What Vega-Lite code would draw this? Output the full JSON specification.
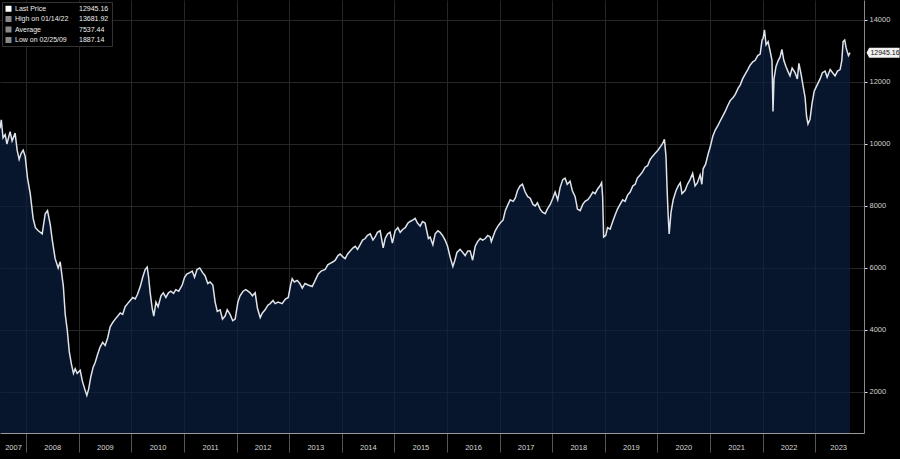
{
  "$schema": "https://vega.github.io/schema/vega-lite/v6.json",
  "width": 864,
  "height": 433,
  "autosize": {"type": "none"},
  "padding": {"left": 0, "top": 0, "right": 36, "bottom": 26},
  "background": "#000000",
  "config": {
    "view": {"stroke": null},
    "font": "Liberation Sans"
  },
  "datasets": {
    "prices": [
      {"date": "2007-07-03", "price": 10500},
      {"date": "2007-07-12", "price": 10780},
      {"date": "2007-07-24", "price": 10200},
      {"date": "2007-08-08", "price": 10300},
      {"date": "2007-08-20", "price": 10000},
      {"date": "2007-09-11", "price": 10400},
      {"date": "2007-09-25", "price": 10100},
      {"date": "2007-10-16", "price": 10350},
      {"date": "2007-10-30", "price": 9800},
      {"date": "2007-11-13", "price": 9500},
      {"date": "2007-11-27", "price": 9700},
      {"date": "2007-12-11", "price": 9800},
      {"date": "2007-12-25", "price": 9600},
      {"date": "2008-01-10", "price": 8900},
      {"date": "2008-01-29", "price": 8400},
      {"date": "2008-02-18", "price": 7600},
      {"date": "2008-03-05", "price": 7300},
      {"date": "2008-03-25", "price": 7200},
      {"date": "2008-04-21", "price": 7100},
      {"date": "2008-05-12", "price": 7750},
      {"date": "2008-05-28", "price": 7850},
      {"date": "2008-06-16", "price": 7400},
      {"date": "2008-06-30", "price": 6900},
      {"date": "2008-07-20", "price": 6300},
      {"date": "2008-08-10", "price": 6000},
      {"date": "2008-08-24", "price": 6200},
      {"date": "2008-09-15", "price": 5400},
      {"date": "2008-09-28", "price": 4500},
      {"date": "2008-10-12", "price": 4000},
      {"date": "2008-10-26", "price": 3300},
      {"date": "2008-11-10", "price": 2900},
      {"date": "2008-11-24", "price": 2600},
      {"date": "2008-12-06", "price": 2750},
      {"date": "2008-12-20", "price": 2600},
      {"date": "2009-01-10", "price": 2700},
      {"date": "2009-01-25", "price": 2350},
      {"date": "2009-02-10", "price": 2100},
      {"date": "2009-02-25", "price": 1887.14},
      {"date": "2009-03-10", "price": 2100},
      {"date": "2009-03-25", "price": 2500},
      {"date": "2009-04-10", "price": 2800},
      {"date": "2009-04-24", "price": 2950},
      {"date": "2009-05-10", "price": 3200},
      {"date": "2009-05-28", "price": 3450},
      {"date": "2009-06-15", "price": 3600},
      {"date": "2009-07-02", "price": 3500},
      {"date": "2009-07-20", "price": 3750},
      {"date": "2009-08-06", "price": 4100},
      {"date": "2009-08-25", "price": 4250},
      {"date": "2009-09-10", "price": 4350},
      {"date": "2009-09-28", "price": 4450},
      {"date": "2009-10-15", "price": 4550},
      {"date": "2009-11-01", "price": 4500},
      {"date": "2009-11-18", "price": 4750},
      {"date": "2009-12-05", "price": 4850},
      {"date": "2009-12-23", "price": 4950},
      {"date": "2010-01-10", "price": 5050},
      {"date": "2010-01-27", "price": 5000},
      {"date": "2010-02-12", "price": 5150},
      {"date": "2010-03-03", "price": 5400},
      {"date": "2010-03-20", "price": 5700},
      {"date": "2010-04-06", "price": 5950},
      {"date": "2010-04-20", "price": 6030},
      {"date": "2010-04-30", "price": 5700},
      {"date": "2010-05-11", "price": 5200},
      {"date": "2010-05-25", "price": 4700},
      {"date": "2010-06-05", "price": 4450},
      {"date": "2010-06-20", "price": 4900},
      {"date": "2010-07-05", "price": 4750},
      {"date": "2010-07-25", "price": 5100},
      {"date": "2010-08-10", "price": 5200},
      {"date": "2010-08-28", "price": 5050},
      {"date": "2010-09-15", "price": 5200},
      {"date": "2010-10-01", "price": 5250},
      {"date": "2010-10-20", "price": 5180},
      {"date": "2010-11-05", "price": 5300},
      {"date": "2010-11-25", "price": 5250},
      {"date": "2010-12-19", "price": 5450},
      {"date": "2011-01-05", "price": 5700},
      {"date": "2011-01-20", "price": 5800},
      {"date": "2011-02-10", "price": 5850},
      {"date": "2011-02-27", "price": 5900},
      {"date": "2011-03-15", "price": 5700},
      {"date": "2011-04-01", "price": 5950},
      {"date": "2011-04-20", "price": 6000},
      {"date": "2011-05-10", "price": 5850},
      {"date": "2011-05-27", "price": 5750},
      {"date": "2011-06-15", "price": 5500},
      {"date": "2011-07-01", "price": 5550},
      {"date": "2011-07-20", "price": 5450},
      {"date": "2011-08-05", "price": 4900},
      {"date": "2011-08-20", "price": 4600},
      {"date": "2011-09-09", "price": 4650},
      {"date": "2011-09-25", "price": 4350},
      {"date": "2011-10-13", "price": 4450},
      {"date": "2011-10-28", "price": 4650},
      {"date": "2011-11-17", "price": 4500},
      {"date": "2011-12-05", "price": 4300},
      {"date": "2011-12-22", "price": 4350},
      {"date": "2012-01-10", "price": 4900},
      {"date": "2012-01-25", "price": 5100},
      {"date": "2012-02-15", "price": 5250},
      {"date": "2012-03-05", "price": 5300},
      {"date": "2012-03-20", "price": 5250},
      {"date": "2012-04-04", "price": 5200},
      {"date": "2012-04-20", "price": 5100},
      {"date": "2012-05-09", "price": 5200},
      {"date": "2012-05-25", "price": 4700},
      {"date": "2012-06-13", "price": 4400},
      {"date": "2012-06-28", "price": 4550},
      {"date": "2012-07-17", "price": 4650},
      {"date": "2012-08-05", "price": 4800},
      {"date": "2012-08-21", "price": 4850},
      {"date": "2012-09-10", "price": 4950},
      {"date": "2012-09-25", "price": 4850},
      {"date": "2012-10-15", "price": 4900},
      {"date": "2012-11-12", "price": 4850},
      {"date": "2012-12-05", "price": 5000},
      {"date": "2012-12-25", "price": 5050},
      {"date": "2013-01-10", "price": 5450},
      {"date": "2013-01-21", "price": 5650},
      {"date": "2013-02-05", "price": 5550},
      {"date": "2013-02-25", "price": 5600},
      {"date": "2013-03-15", "price": 5500},
      {"date": "2013-04-01", "price": 5350},
      {"date": "2013-04-20", "price": 5500},
      {"date": "2013-05-12", "price": 5450},
      {"date": "2013-06-09", "price": 5400},
      {"date": "2013-06-25", "price": 5550},
      {"date": "2013-07-20", "price": 5800},
      {"date": "2013-08-10", "price": 5900},
      {"date": "2013-09-07", "price": 5950},
      {"date": "2013-09-25", "price": 6100},
      {"date": "2013-10-12", "price": 6150},
      {"date": "2013-11-01", "price": 6200},
      {"date": "2013-11-16", "price": 6250},
      {"date": "2013-12-05", "price": 6400},
      {"date": "2013-12-20", "price": 6450},
      {"date": "2014-01-10", "price": 6350},
      {"date": "2014-01-24", "price": 6300},
      {"date": "2014-02-10", "price": 6450},
      {"date": "2014-02-28", "price": 6550},
      {"date": "2014-03-20", "price": 6650},
      {"date": "2014-04-04", "price": 6700},
      {"date": "2014-04-20", "price": 6600},
      {"date": "2014-05-08", "price": 6750},
      {"date": "2014-05-25", "price": 6900},
      {"date": "2014-06-12", "price": 6950},
      {"date": "2014-06-28", "price": 7050},
      {"date": "2014-07-17", "price": 7100},
      {"date": "2014-08-05", "price": 6900},
      {"date": "2014-08-20", "price": 7000},
      {"date": "2014-09-05", "price": 7150},
      {"date": "2014-09-24", "price": 7200},
      {"date": "2014-10-15", "price": 6650},
      {"date": "2014-10-29", "price": 6950},
      {"date": "2014-11-15", "price": 7100},
      {"date": "2014-12-02", "price": 7150},
      {"date": "2014-12-18", "price": 6800},
      {"date": "2015-01-06", "price": 7200},
      {"date": "2015-01-25", "price": 7300},
      {"date": "2015-02-10", "price": 7150},
      {"date": "2015-03-01", "price": 7250},
      {"date": "2015-03-17", "price": 7300},
      {"date": "2015-04-05", "price": 7450},
      {"date": "2015-04-20", "price": 7500},
      {"date": "2015-05-10", "price": 7550},
      {"date": "2015-05-25", "price": 7600},
      {"date": "2015-06-10", "price": 7450},
      {"date": "2015-06-29", "price": 7350},
      {"date": "2015-07-15", "price": 7500},
      {"date": "2015-08-02", "price": 7450},
      {"date": "2015-08-25", "price": 6950},
      {"date": "2015-09-06", "price": 7000},
      {"date": "2015-09-25", "price": 6750},
      {"date": "2015-10-11", "price": 7100},
      {"date": "2015-10-30", "price": 7200},
      {"date": "2015-11-14", "price": 7150},
      {"date": "2015-12-01", "price": 7050},
      {"date": "2015-12-19", "price": 6900},
      {"date": "2016-01-05", "price": 6700},
      {"date": "2016-01-23", "price": 6350},
      {"date": "2016-02-11", "price": 6050},
      {"date": "2016-02-25", "price": 6250},
      {"date": "2016-03-10", "price": 6500},
      {"date": "2016-04-01", "price": 6600},
      {"date": "2016-04-20", "price": 6500},
      {"date": "2016-05-06", "price": 6400},
      {"date": "2016-05-25", "price": 6550},
      {"date": "2016-06-10", "price": 6550},
      {"date": "2016-06-27", "price": 6250},
      {"date": "2016-07-15", "price": 6700},
      {"date": "2016-08-01", "price": 6850},
      {"date": "2016-08-19", "price": 6950},
      {"date": "2016-09-05", "price": 6900},
      {"date": "2016-09-23", "price": 6950},
      {"date": "2016-10-10", "price": 7050},
      {"date": "2016-10-27", "price": 7000},
      {"date": "2016-11-04", "price": 6850},
      {"date": "2016-12-01", "price": 7200},
      {"date": "2016-12-20", "price": 7350},
      {"date": "2017-01-05", "price": 7450},
      {"date": "2017-01-25", "price": 7550},
      {"date": "2017-02-09", "price": 7850},
      {"date": "2017-02-28", "price": 8050},
      {"date": "2017-03-15", "price": 8200},
      {"date": "2017-04-05", "price": 8150},
      {"date": "2017-04-19", "price": 8250},
      {"date": "2017-05-05", "price": 8500},
      {"date": "2017-05-23", "price": 8650},
      {"date": "2017-06-08", "price": 8700},
      {"date": "2017-06-27", "price": 8450},
      {"date": "2017-07-15", "price": 8300},
      {"date": "2017-08-01", "price": 8250},
      {"date": "2017-08-20", "price": 8050},
      {"date": "2017-09-05", "price": 8000},
      {"date": "2017-09-20", "price": 8100},
      {"date": "2017-10-09", "price": 7900},
      {"date": "2017-10-25", "price": 7800},
      {"date": "2017-11-13", "price": 7750},
      {"date": "2017-11-28", "price": 7900},
      {"date": "2017-12-18", "price": 8050},
      {"date": "2018-01-05", "price": 8250},
      {"date": "2018-01-21", "price": 8450},
      {"date": "2018-02-08", "price": 8200},
      {"date": "2018-02-25", "price": 8600},
      {"date": "2018-03-15", "price": 8850},
      {"date": "2018-03-31", "price": 8900},
      {"date": "2018-04-15", "price": 8700},
      {"date": "2018-05-05", "price": 8800},
      {"date": "2018-05-20", "price": 8500},
      {"date": "2018-06-09", "price": 8300},
      {"date": "2018-06-25", "price": 7900},
      {"date": "2018-07-14", "price": 7850},
      {"date": "2018-08-01", "price": 8050},
      {"date": "2018-08-17", "price": 8150},
      {"date": "2018-09-05", "price": 8200},
      {"date": "2018-09-21", "price": 8300},
      {"date": "2018-10-10", "price": 8450},
      {"date": "2018-10-26", "price": 8400},
      {"date": "2018-11-12", "price": 8550},
      {"date": "2018-11-29", "price": 8650},
      {"date": "2018-12-10", "price": 8750},
      {"date": "2018-12-17", "price": 8300},
      {"date": "2018-12-24", "price": 7000},
      {"date": "2019-01-08", "price": 7050},
      {"date": "2019-01-20", "price": 7300},
      {"date": "2019-02-07", "price": 7250},
      {"date": "2019-02-25", "price": 7500},
      {"date": "2019-03-13", "price": 7700},
      {"date": "2019-03-30", "price": 7900},
      {"date": "2019-04-17", "price": 8050},
      {"date": "2019-05-05", "price": 8200},
      {"date": "2019-05-22", "price": 8150},
      {"date": "2019-06-08", "price": 8350},
      {"date": "2019-06-26", "price": 8450},
      {"date": "2019-07-15", "price": 8650},
      {"date": "2019-07-31", "price": 8700},
      {"date": "2019-08-15", "price": 8900},
      {"date": "2019-09-03", "price": 9000},
      {"date": "2019-09-20", "price": 9100},
      {"date": "2019-10-08", "price": 9250},
      {"date": "2019-10-25", "price": 9300},
      {"date": "2019-11-12", "price": 9500},
      {"date": "2019-11-28", "price": 9600},
      {"date": "2019-12-17", "price": 9700},
      {"date": "2020-01-05", "price": 9800},
      {"date": "2020-01-20", "price": 9900},
      {"date": "2020-02-05", "price": 10000},
      {"date": "2020-02-19", "price": 10150},
      {"date": "2020-03-01", "price": 9600},
      {"date": "2020-03-09", "price": 8500},
      {"date": "2020-03-16", "price": 7700},
      {"date": "2020-03-23", "price": 7100},
      {"date": "2020-04-05", "price": 7800},
      {"date": "2020-04-20", "price": 8200},
      {"date": "2020-05-10", "price": 8500},
      {"date": "2020-05-25", "price": 8650},
      {"date": "2020-06-08", "price": 8750},
      {"date": "2020-06-20", "price": 8400},
      {"date": "2020-07-11", "price": 8500},
      {"date": "2020-07-28", "price": 8700},
      {"date": "2020-08-15", "price": 8850},
      {"date": "2020-09-02", "price": 9050},
      {"date": "2020-09-19", "price": 8650},
      {"date": "2020-10-05", "price": 8750},
      {"date": "2020-10-24", "price": 9000},
      {"date": "2020-11-05", "price": 8700},
      {"date": "2020-11-14", "price": 9200},
      {"date": "2020-12-01", "price": 9350},
      {"date": "2020-12-20", "price": 9700},
      {"date": "2021-01-02", "price": 9900},
      {"date": "2021-01-20", "price": 10250},
      {"date": "2021-02-06", "price": 10450},
      {"date": "2021-02-25", "price": 10600},
      {"date": "2021-03-13", "price": 10750},
      {"date": "2021-03-30", "price": 10900},
      {"date": "2021-04-16", "price": 11050},
      {"date": "2021-05-05", "price": 11250},
      {"date": "2021-05-21", "price": 11400},
      {"date": "2021-06-10", "price": 11500},
      {"date": "2021-06-25", "price": 11600},
      {"date": "2021-07-15", "price": 11800},
      {"date": "2021-07-29", "price": 11900},
      {"date": "2021-08-15", "price": 12100},
      {"date": "2021-09-02", "price": 12250},
      {"date": "2021-09-20", "price": 12400},
      {"date": "2021-10-07", "price": 12550},
      {"date": "2021-10-25", "price": 12650},
      {"date": "2021-11-10", "price": 12700},
      {"date": "2021-11-28", "price": 12850},
      {"date": "2021-12-15", "price": 12900},
      {"date": "2021-12-28", "price": 13350},
      {"date": "2022-01-04", "price": 13400},
      {"date": "2022-01-14", "price": 13681.92},
      {"date": "2022-01-25", "price": 13200},
      {"date": "2022-02-08", "price": 13300},
      {"date": "2022-02-22", "price": 13000},
      {"date": "2022-03-07", "price": 12700},
      {"date": "2022-03-14", "price": 11050},
      {"date": "2022-03-21", "price": 12100},
      {"date": "2022-04-04", "price": 12500},
      {"date": "2022-04-20", "price": 12700},
      {"date": "2022-05-02", "price": 12800},
      {"date": "2022-05-15", "price": 13050},
      {"date": "2022-05-28", "price": 12700},
      {"date": "2022-06-12", "price": 12500},
      {"date": "2022-06-25", "price": 12350},
      {"date": "2022-07-10", "price": 12200},
      {"date": "2022-07-25", "price": 12450},
      {"date": "2022-08-14", "price": 12300},
      {"date": "2022-08-30", "price": 12100},
      {"date": "2022-09-10", "price": 12600},
      {"date": "2022-09-25", "price": 12250},
      {"date": "2022-10-08", "price": 11900},
      {"date": "2022-10-23", "price": 11500},
      {"date": "2022-11-02", "price": 10900},
      {"date": "2022-11-12", "price": 10650},
      {"date": "2022-11-26", "price": 10800},
      {"date": "2022-12-10", "price": 11300},
      {"date": "2022-12-25", "price": 11700},
      {"date": "2023-01-14", "price": 11900},
      {"date": "2023-02-04", "price": 12100},
      {"date": "2023-02-20", "price": 12300},
      {"date": "2023-03-11", "price": 12350},
      {"date": "2023-03-25", "price": 12150},
      {"date": "2023-04-15", "price": 12400},
      {"date": "2023-05-02", "price": 12300},
      {"date": "2023-05-19", "price": 12200},
      {"date": "2023-06-05", "price": 12350},
      {"date": "2023-06-23", "price": 12400},
      {"date": "2023-07-05", "price": 12700},
      {"date": "2023-07-14", "price": 13300},
      {"date": "2023-07-25", "price": 13350},
      {"date": "2023-08-04", "price": 13100},
      {"date": "2023-08-20", "price": 12850},
      {"date": "2023-08-31", "price": 12945.16}
    ],
    "summary": [
      {"entry": "Last Price"},
      {"entry": "High on 01/14/22"},
      {"entry": "Average"},
      {"entry": "Low on 02/25/09"},
      {"entry": "12945.16"},
      {"entry": "13681.92"},
      {"entry": "7537.44"},
      {"entry": "1887.14"}
    ]
  },
  "layer": [
    {
      "data": {"name": "prices"},
      "mark": {
        "type": "area",
        "clip": true,
        "color": "#0b2040",
        "line": {"color": "#dfe3ea", "strokeWidth": 1.5}
      },
      "encoding": {
        "x": {
          "field": "date",
          "type": "temporal",
          "scale": {"type": "utc", "domain": [{"year": 2007, "month": 7, "date": 3, "utc": true}, {"year": 2023, "month": 12, "date": 6, "utc": true}]},
          "axis": {
            "title": null,
            "orient": "bottom",
            "values": [
              {"year": 2007, "month": 7, "date": 3, "utc": true},
              {"year": 2008, "month": 1, "date": 1, "utc": true},
              {"year": 2009, "month": 1, "date": 1, "utc": true},
              {"year": 2010, "month": 1, "date": 1, "utc": true},
              {"year": 2011, "month": 1, "date": 1, "utc": true},
              {"year": 2012, "month": 1, "date": 1, "utc": true},
              {"year": 2013, "month": 1, "date": 1, "utc": true},
              {"year": 2014, "month": 1, "date": 1, "utc": true},
              {"year": 2015, "month": 1, "date": 1, "utc": true},
              {"year": 2016, "month": 1, "date": 1, "utc": true},
              {"year": 2017, "month": 1, "date": 1, "utc": true},
              {"year": 2018, "month": 1, "date": 1, "utc": true},
              {"year": 2019, "month": 1, "date": 1, "utc": true},
              {"year": 2020, "month": 1, "date": 1, "utc": true},
              {"year": 2021, "month": 1, "date": 1, "utc": true},
              {"year": 2022, "month": 1, "date": 1, "utc": true},
              {"year": 2023, "month": 1, "date": 1, "utc": true}
            ],
            "labelExpr": "utcFormat(datum.value, '%Y')",
            "labelOffset": {"condition": [{"test": "utcyear(datum.value) == 2007", "value": 13}, {"test": "utcyear(datum.value) == 2023", "value": 23}], "value": 26},
            "labelOverlap": false,
            "labelFlush": false,
            "labelBound": false,
            "labelAlign": "center",
            "labelBaseline": "middle",
            "labelPadding": -5,
            "labelColor": "#d8d8d8",
            "labelFontSize": 7.5,
            "tickSize": 19,
            "tickColor": "#555555",
            "tickOpacity": {"condition": {"test": "utcyear(datum.value) == 2007", "value": 0}, "value": 1},
            "domainColor": "#9a9a9a",
            "grid": true,
            "gridColor": "#262626",
            "gridOpacity": {"condition": {"test": "utcyear(datum.value) == 2007", "value": 0}, "value": 1}
          }
        },
        "y": {
          "field": "price",
          "type": "quantitative",
          "scale": {"domain": [676, 14645], "zero": false, "nice": false},
          "axis": {
            "title": null,
            "orient": "right",
            "values": [2000, 4000, 6000, 8000, 10000, 12000, 14000],
            "format": "d",
            "labelColor": "#d0d0d0",
            "labelFontSize": 7.5,
            "labelPadding": 2,
            "tickSize": 3,
            "tickColor": "#dddddd",
            "domainColor": "#8a8a8a",
            "grid": true,
            "gridColor": "#262626"
          }
        }
      }
    },
    {
      "data": {"name": "prices"},
      "transform": [{"filter": "datum.price == 12945.16"}],
      "mark": {
        "type": "point",
        "clip": false,
        "filled": true,
        "fill": "#f2f2f2",
        "opacity": 1,
        "strokeWidth": 0,
        "shape": "M-1,0L-0.84,-0.3L1,-0.3L1,0.3L-0.84,0.3Z",
        "size": 1089,
        "xOffset": 33
      },
      "encoding": {
        "x": {"field": "date", "type": "temporal"},
        "y": {"field": "price", "type": "quantitative"}
      }
    },
    {
      "data": {"name": "prices"},
      "transform": [{"filter": "datum.price == 12945.16"}],
      "mark": {
        "type": "text",
        "clip": false,
        "dx": 35,
        "align": "center",
        "baseline": "middle",
        "fontSize": 7,
        "color": "#111111"
      },
      "encoding": {
        "x": {"field": "date", "type": "temporal"},
        "y": {"field": "price", "type": "quantitative"},
        "text": {"field": "price", "type": "quantitative", "format": ".2f"}
      }
    },
    {
      "data": {"name": "summary"},
      "mark": {"type": "point", "filled": true, "opacity": 0},
      "encoding": {
        "color": {
          "field": "entry",
          "type": "nominal",
          "scale": {
            "domain": ["Last Price", "High on 01/14/22", "Average", "Low on 02/25/09", "12945.16", "13681.92", "7537.44", "1887.14"],
            "range": ["#ffffff", "#8a8a8a", "#8a8a8a", "#8a8a8a", "transparent", "transparent", "transparent", "transparent"]
          },
          "legend": {
            "title": null,
            "orient": "top-left",
            "offset": 2,
            "columns": 2,
            "columnPadding": 0,
            "rowPadding": 2.5,
            "padding": 3,
            "fillColor": "#000000",
            "strokeColor": "#333333",
            "symbolType": "square",
            "symbolSize": 36,
            "symbolOpacity": 1,
            "symbolStrokeWidth": 0,
            "labelColor": "#eeeeee",
            "labelFontSize": 7,
            "labelOffset": 3,
            "labelLimit": 200
          }
        }
      }
    }
  ]
}
